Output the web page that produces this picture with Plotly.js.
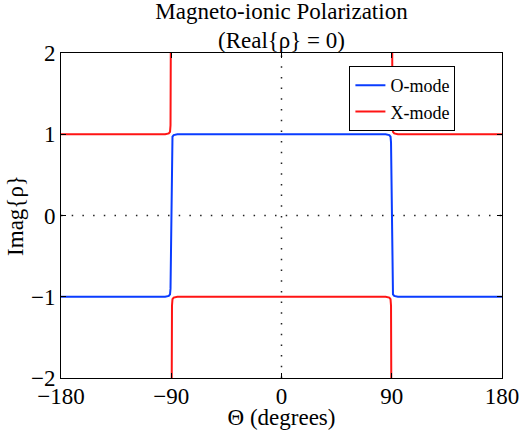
<!DOCTYPE html>
<html><head><meta charset="utf-8">
<script src="https://cdn.plot.ly/plotly-3.0.1.min.js"></script>
<style>body{margin:0;background:#fff}#chart{width:521px;height:430px}</style>
</head><body><div id="chart"></div>
<script>
// O-mode samples (theta in degrees, Imag{rho})
const oTheta = [-180, -120, -95, -92, -91, -90.6, -90.3, -90, -89.7, -89.4, -89, -88, -85, -60, 0, 60, 85, 88, 89, 89.4, 89.7, 90, 90.3, 90.6, 91, 92, 95, 120, 180];
const oImag  = [-1, -1, -1, -0.99, -0.97, -0.9, -0.6, 0, 0.6, 0.9, 0.97, 0.99, 1, 1, 1, 1, 1, 0.99, 0.97, 0.9, 0.6, 0, -0.6, -0.9, -0.97, -0.99, -1, -1, -1];
// X-mode samples (gaps at the poles)
const xTheta = [-180, -120, -95, -92, -91, -90.6, -90.3, -90.15, null, -89.85, -89.7, -89.4, -89, -88, -85, -60, 0, 60, 85, 88, 89, 89.4, 89.7, 89.85, null, 90.15, 90.3, 90.6, 91, 92, 95, 120, 180];
const xImag  = [1, 1, 1, 1.01, 1.03, 1.11, 1.67, 3, null, -3, -1.67, -1.11, -1.03, -1.01, -1, -1, -1, -1, -1, -1.01, -1.03, -1.11, -1.67, -3, null, 3, 1.67, 1.11, 1.03, 1.01, 1, 1, 1];
const xTicks = [-180, -90, 0, 90, 180];
const xTickText = ['\u2212180', '\u221290', '0', '90', '180'];
const yTicks = [-2, -1, 0, 1, 2];
const yTickText = ['\u22122', '\u22121', '0', '1', '2'];

const font = 'Liberation Serif, Times New Roman, serif';
const traces = [
  {x: oTheta, y: oImag, type: 'scatter', mode: 'lines', name: 'O-mode', line: {color: '#0a3cff', width: 2}},
  {x: xTheta, y: xImag, type: 'scatter', mode: 'lines', name: 'X-mode', line: {color: '#ff1414', width: 2}, connectgaps: false}
];
const layout = {
  width: 521, height: 430,
  margin: {l: 61, r: 19, t: 53, b: 52},
  paper_bgcolor: '#fff', plot_bgcolor: '#fff',
  font: {family: font, size: 23, color: '#000'},
  title: {text: 'Magneto-ionic Polarization<br>(Real{\u03c1} = 0)', x: 0.5, xref: 'paper', xanchor: 'center',
    yref: 'container', y: 0.957, yanchor: 'top', font: {family: font, size: 23}},
  xaxis: {range: [-180, 180], tickvals: xTicks, ticktext: xTickText, ticks: 'inside', ticklen: 5, tickcolor: '#000',
    showline: true, linecolor: '#000', linewidth: 1, mirror: 'ticks', showgrid: false, zeroline: false,
    ticklabelstandoff: -3,
    title: {text: '\u0398 (degrees)', standoff: 2, font: {family: font, size: 23}}, tickfont: {size: 23}},
  yaxis: {range: [-2, 2], tickvals: yTicks, ticktext: yTickText, ticks: 'inside', ticklen: 5, tickcolor: '#000',
    showline: true, linecolor: '#000', linewidth: 1, mirror: 'ticks', showgrid: false, zeroline: false,
    title: {text: 'Imag{\u03c1}', standoff: 0, font: {family: font, size: 23}}, tickfont: {size: 23}},
  showlegend: true,
  legend: {x: 0.654, y: 0.96, xanchor: 'left', yanchor: 'top', bordercolor: '#000', borderwidth: 1, bgcolor: '#fff',
    font: {family: font, size: 18}, tracegroupgap: 0, itemwidth: 30},
  shapes: [
    {type: 'line', xref: 'x', yref: 'paper', x0: 0, x1: 0, y0: 0, y1: 1, line: {color: '#222', width: 1.5, dash: '1.5px,9.2px'}, layer: 'below'},
    {type: 'line', xref: 'paper', yref: 'y', x0: 0, x1: 1, y0: 0, y1: 0, line: {color: '#222', width: 1.5, dash: '1.5px,9.2px'}, layer: 'below'}
  ]
};
Plotly.newPlot('chart', traces, layout, {displayModeBar: false, staticPlot: true});
</script></body></html>
